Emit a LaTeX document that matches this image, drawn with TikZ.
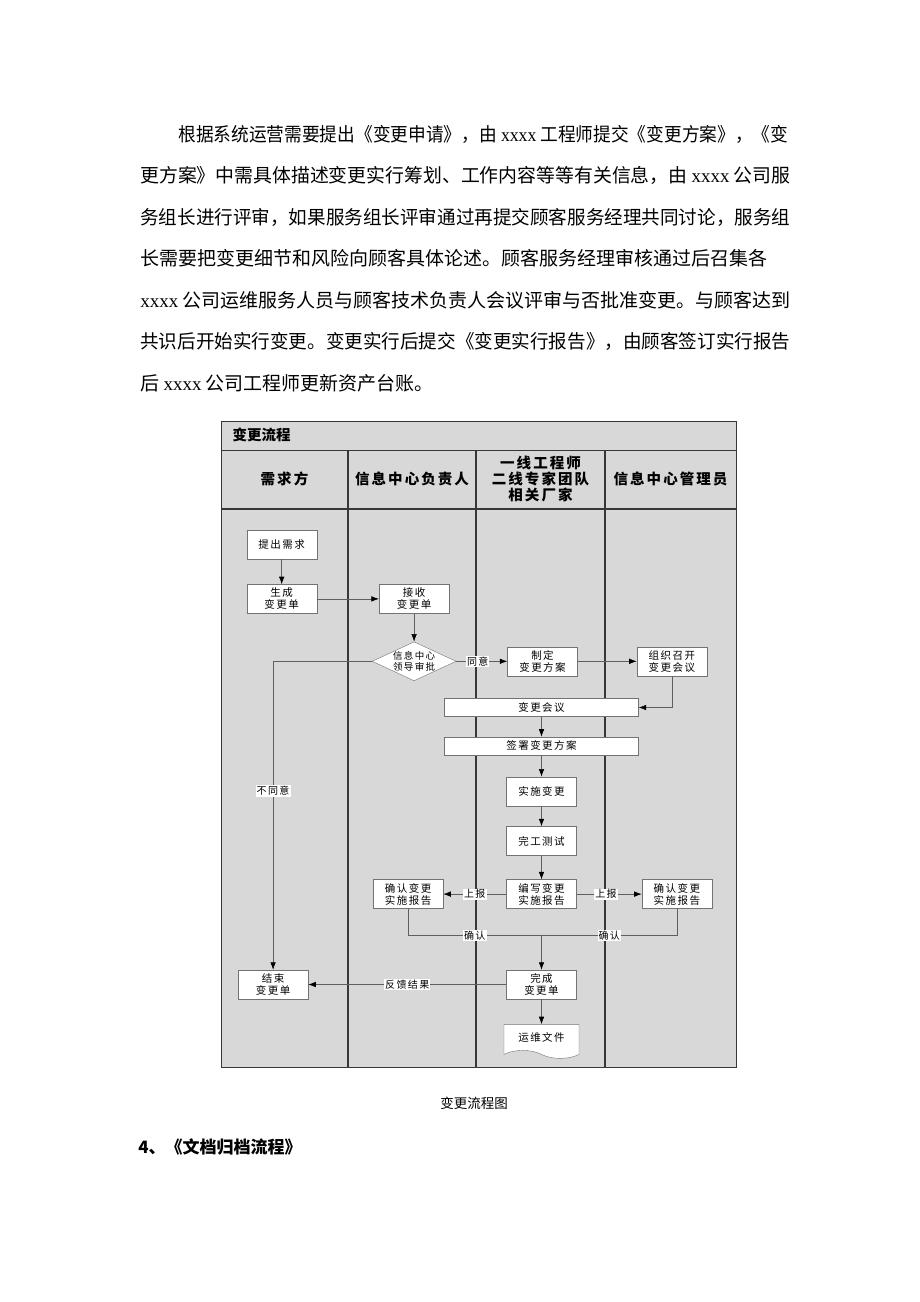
\documentclass[tikz,border=0pt]{standalone}
\usepackage{fontspec}
\usepackage{graphicx}
\setmainfont{Liberation Serif}
\newfontfamily\cjk{Noto Sans CJK SC}
\newfontfamily\cjkspaced[LetterSpace=14]{Noto Sans CJK SC}
\usetikzlibrary{arrows.meta,calc,positioning}
\usetikzlibrary{shapes.geometric,shapes.symbols}
\definecolor{lanegray}{RGB}{216,216,216}
\definecolor{framegray}{RGB}{55,55,55}
\definecolor{wiregray}{RGB}{95,95,95}
\newcommand{\xs}{{\rmfamily xxxx}}

\begin{document}
\begin{tikzpicture}[x=1pt, y=-1pt, >={Latex[length=7.5pt,width=5.5pt,color=black]}, semithick,
    para/.style={anchor=base west, inner sep=0pt, font=\cjk\fontsize{19}{19}\selectfont},
    box/.style={rectangle, draw=black!55, fill=white, thin, minimum width=70pt, minimum height=29pt,
                inner sep=1pt, align=center, font=\cjkspaced\fontsize{10.5}{12}\selectfont},
    bar/.style={box, minimum width=194pt, minimum height=18pt},
    decision/.style={diamond, draw=black!55, fill=white, thin, aspect=2.15, minimum width=84pt,
                minimum height=39pt, inner sep=-2pt, align=center, font=\cjkspaced\fontsize{9.5}{10.7}\selectfont},
    docshape/.style={tape, tape bend top=none, tape bend bottom=out and in, tape bend height=8pt,
                draw=black!55, fill=white, thin, minimum width=75pt, minimum height=34pt,
                font=\cjkspaced\fontsize{10.5}{12}\selectfont},
    head/.style={align=center, font=\cjkspaced\bfseries\fontsize{14.5}{16}\selectfont},
    lbl/.style={fill=white, inner sep=1pt, font=\cjkspaced\fontsize{10}{10}\selectfont},
    wire/.style={draw=wiregray, line width=0.6pt},
    lane/.style={draw=framegray, line width=1.4pt}]
    \useasboundingbox (0,0) rectangle (920,1302);

    % text above the chart
    \node[para] (p1) at (178,141) {\resizebox{610pt}{\height}{根据系统运营需要提出《变更申请》，由 \xs{} 工程师提交《变更方案》，《变}};
    \node[para] (p2) at (140,182.5) {\resizebox{650pt}{\height}{更方案》中需具体描述变更实行筹划、工作内容等等有关信息，由 \xs{} 公司服}};
    \node[para] (p3) at (140,224) {\resizebox{650pt}{\height}{务组长进行评审，如果服务组长评审通过再提交顾客服务经理共同讨论，服务组}};
    \node[para] (p4) at (140,265.5) {长需要把变更细节和风险向顾客具体论述。顾客服务经理审核通过后召集各};
    \node[para] (p5) at (140,307) {\resizebox{650pt}{\height}{\xs{} 公司运维服务人员与顾客技术负责人会议评审与否批准变更。与顾客达到}};
    \node[para] (p6) at (140,348.5) {\resizebox{650pt}{\height}{共识后开始实行变更。变更实行后提交《变更实行报告》，由顾客签订实行报告}};
    \node[para] (p7) at (140,390) {后 \xs{} 公司工程师更新资产台账。};

    % swimlanes
    \fill[lanegray] (221,421) rectangle (736,1067);
    \draw[framegray, line width=1pt] (221,421) rectangle (736,1067);
    \draw[framegray, line width=1pt] (221,450) -- (736,450);
    \draw[framegray, line width=1.2pt] (221,509) -- (736,509);
    \foreach \x in {348,476,605}
        \draw[lane] (\x,450) -- (\x,1067);

    \node[anchor=west, font=\cjk\bfseries\fontsize{14.5}{14.5}\selectfont] (title) at (229,435) {变更流程};
    \node[head] (demand)   at (284.5,479) {需求方};
    \node[head] (leader)   at (412,479)   {信息中心负责人};
    \node[head] (engineer) at (540.5,479) {一线工程师\\二线专家团队\\相关厂家};
    \node[head] (admin)    at (670.5,479) {信息中心管理员};

    % flow
    \node[box]      (req)   at (281.7,544.5)          {提出需求};
    \node[box]      (gen)   [below=25pt of req]       {生成\\变更单};
    \node[box]      (recv)  [right=62pt of gen]       {接收\\变更单};
    \node[decision] (appr)  [below=28pt of recv]      {信息中心\\领导审批};
    \node[box]      (plan)  [right=51pt of appr]      {制定\\变更方案};
    \node[box]      (meet)  [right=59pt of plan]      {组织召开\\变更会议};
    \node[bar]      (conf)  at (541.5,707.5)          {变更会议};
    \node[bar]      (sign)  [below=20pt of conf]      {签署变更方案};
    \node[box]      (impl)  [below=21.5pt of sign]    {实施变更};
    \node[box]      (test)  [below=20.3pt of impl]    {完工测试};
    \node[box]      (rep)   [below=23.7pt of test]    {编写变更\\实施报告};
    \node[box]      (ackL)  [left=63pt of rep]        {确认变更\\实施报告};
    \node[box]      (ackR)  [right=65pt of rep]       {确认变更\\实施报告};
    \node[box]      (done)  [below=61pt of rep]       {完成\\变更单};
    \node[box]      (close) [left=198pt of done]      {结束\\变更单};
    \node[docshape] (file)  [below=25pt of done]      {运维文件};
    \coordinate (join) at ($(rep.south)+(0,26.7)$);

    \path[->, wire] (req)  edge (gen)
                    (gen)  edge (recv)
                    (recv) edge (appr)
                    (appr) edge node[lbl, pos=0.42] {同意} (plan)
                    (plan) edge (meet)
                    (conf) edge (sign)
                    (sign) edge (impl)
                    (impl) edge (test)
                    (test) edge (rep)
                    (rep)  edge node[lbl] {上报} (ackL)
                           edge node[lbl, pos=0.45] {上报} (ackR)
                    (done) edge node[lbl] {反馈结果} (close)
                           edge (file);
    \draw[->, wire] (meet.south) |- (conf.east);
    \draw[wire] (ackL.south) |- node[lbl, pos=0.75] {确认} (join);
    \draw[wire] (ackR.south) |- node[lbl, pos=0.75] {确认} (join);
    \draw[->, wire] (join) -- (done.north);
    \draw[->, wire] (appr.west) -| node[lbl, pos=0.71] {不同意} (close.north);

    % caption and next heading
    \node[anchor=base, font=\cjk\fontsize{13.5}{13.5}\selectfont] (caption) at (474,1108) {变更流程图};
    \node[anchor=base west, inner sep=0pt, font=\cjk\bfseries\fontsize{17}{17}\selectfont] (nexthead) at (138,1153.5) {4、《文档归档流程》};
\end{tikzpicture}
\end{document}
